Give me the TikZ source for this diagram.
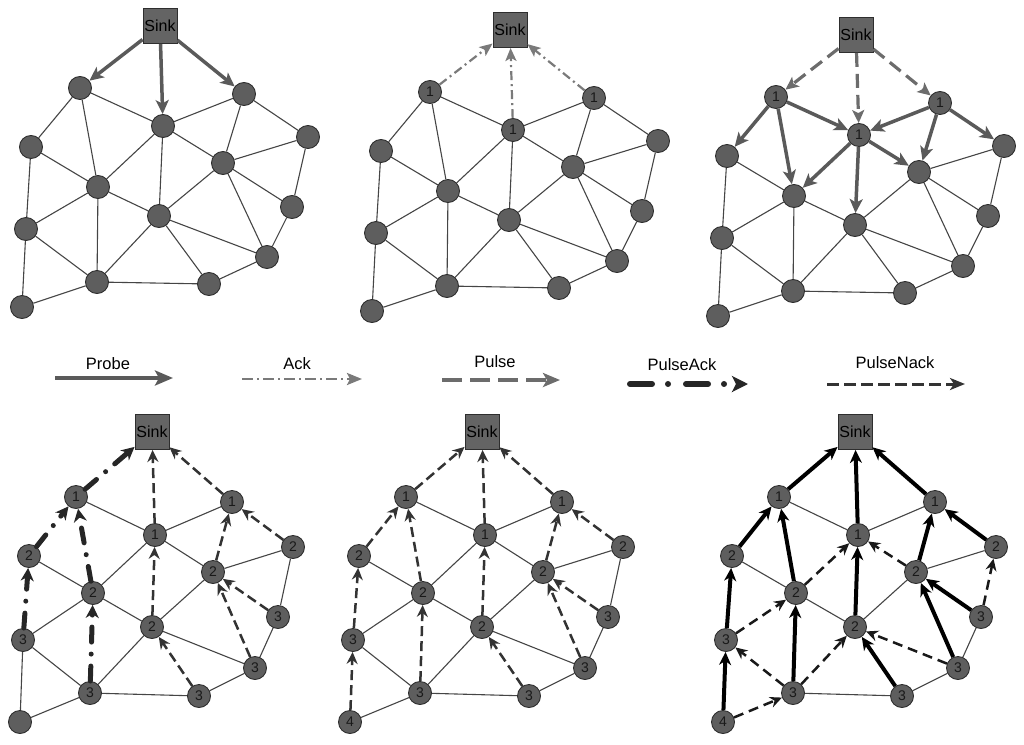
\documentclass[tikz,border=0pt]{standalone}
\usepackage{fontspec}
\setmainfont{Liberation Sans}
\usetikzlibrary{arrows.meta,backgrounds}
\definecolor{ndfill}{HTML}{5E5E5E}
\definecolor{ndline}{HTML}{2E2E2E}
\definecolor{sinkfill}{HTML}{646464}
\definecolor{edgec}{HTML}{454545}
\definecolor{probec}{HTML}{5A5A5A}
\definecolor{ackc}{HTML}{7A7A7A}
\definecolor{pulsec}{HTML}{6C6C6C}
\definecolor{packc}{HTML}{262626}
\definecolor{pnackc}{HTML}{333333}
\tikzset{
 nd/.style={circle, draw=ndline, fill=ndfill, line width=0.9pt, minimum size=23pt, inner sep=0pt, font=\fontsize{14}{14}\selectfont, text=black!90},
 sinkbox/.style={rectangle, draw=ndline, fill=sinkfill, line width=0.9pt, minimum width=34pt, minimum height=35pt, inner sep=0pt, font=\fontsize{16}{16}\selectfont},
 lnk/.style={draw=edgec, line width=1.1pt},
 probe/.style={draw=probec, line width=3.5pt, -{Stealth[length=14pt,width=13pt,inset=3.5pt]}},
 ack/.style={draw=ackc, line width=2.2pt, dash pattern=on 9pt off 4pt on 2pt off 4pt, -{Stealth[length=13pt,width=11pt,inset=3pt]}},
 pulse/.style={draw=pulsec, line width=3.2pt, dash pattern=on 14pt off 7pt, -{Stealth[length=13pt,width=12pt,inset=3pt]}},
 pack/.style={draw=packc, line width=5pt, line cap=round, dash pattern=on 15pt off 12pt on 0.01pt off 12pt, -{Stealth[length=13pt,width=13pt,inset=4pt]}},
 pnack/.style={draw=pnackc, line width=2.5pt, dash pattern=on 10pt off 5pt, -{Stealth[length=12pt,width=11pt,inset=4pt]}},
 route/.style={draw=black, line width=4pt, -{Stealth[length=13pt,width=12pt,inset=4pt]}},
 alt/.style={draw=black!90, line width=2.5pt, dash pattern=on 10pt off 6pt, -{Stealth[length=12pt,width=11pt,inset=4pt]}},
 lgd/.style={font=\fontsize{16.5}{16.5}\selectfont, inner sep=0pt},
}
\newcommand\topnet[2]{%
 \node[sinkbox] (#1S) at (160,26) {Sink};
 \node[nd] (#1A) at (80,88) {#2};
 \node[nd] (#1B) at (163,126) {#2};
 \node[nd] (#1C) at (244,94) {#2};
 \node[nd] (#1D) at (31,147) {};
 \node[nd] (#1E) at (308,137) {};
 \node[nd] (#1F) at (223,163) {};
 \node[nd] (#1G) at (98,187) {};
 \node[nd] (#1H) at (159,216) {};
 \node[nd] (#1I) at (292,207) {};
 \node[nd] (#1J) at (26,229) {};
 \node[nd] (#1K) at (267,257) {};
 \node[nd] (#1L) at (97,282) {};
 \node[nd] (#1M) at (209,284) {};
 \node[nd] (#1N) at (22,307) {};
}
\newcommand\botnet[2]{%
 \node[sinkbox] (#1S) at (152,432) {Sink};
 \node[nd] (#1A) at (76,497) {1};
 \node[nd] (#1B) at (155,535) {1};
 \node[nd] (#1C) at (232,502) {1};
 \node[nd] (#1D) at (29,556) {2};
 \node[nd] (#1E) at (293,547) {2};
 \node[nd] (#1F) at (213,572) {2};
 \node[nd] (#1G) at (93,593) {2};
 \node[nd] (#1H) at (152,627) {2};
 \node[nd] (#1I) at (278,617) {3};
 \node[nd] (#1J) at (23,640) {3};
 \node[nd] (#1K) at (255,668) {3};
 \node[nd] (#1L) at (90,693) {3};
 \node[nd] (#1M) at (199,696) {3};
 \node[nd] (#1N) at (20,722) {#2};
}
\newcommand\links[3]{\foreach \a/\b in {#3} {\draw[#2] (#1\a) -- (#1\b);}}
\newcommand\thinlinks[2]{\begin{pgfonlayer}{background}\links{#1}{lnk}{#2}\end{pgfonlayer}}
\begin{document}
\begin{tikzpicture}[x=1pt,y=-1pt]
\useasboundingbox (0,0) rectangle (1024,744);
% ---------- top row ----------
\begin{scope}
 \topnet{p1}{}
 \thinlinks{p1}{A/B,B/C,A/D,A/G,B/G,B/H,B/F,C/F,C/E,E/F,E/I,D/G,D/J,G/J,G/H,G/L,H/F,H/L,H/M,H/K,F/I,F/K,I/K,J/L,J/N,L/M,L/N,M/K}
 \links{p1}{probe}{S/A,S/B,S/C}
\end{scope}
\begin{scope}[shift={(350,4)}]
 \topnet{p2}{1}
 \thinlinks{p2}{A/B,B/C,A/D,A/G,B/G,B/H,B/F,C/F,C/E,E/F,E/I,D/G,D/J,G/J,G/H,G/L,H/F,H/L,H/M,H/K,F/I,F/K,I/K,J/L,J/N,L/M,L/N,M/K}
 \links{p2}{ack}{A/S,B/S,C/S}
\end{scope}
\begin{scope}[shift={(696,9)}]
 \topnet{p3}{1}
 \thinlinks{p3}{D/G,D/J,G/J,G/H,G/L,H/F,H/L,H/M,H/K,F/I,F/K,E/F,E/I,I/K,J/L,J/N,L/M,L/N,M/K}
 \links{p3}{pulse}{S/A,S/B,S/C}
 \links{p3}{probe}{A/D,A/G,A/B,B/G,B/H,B/F,C/B,C/F,C/E}
\end{scope}
% ---------- legend ----------
\node[lgd] (tProbe) at (108,364) {Probe};
\node[lgd] (tAck) at (297,364) {Ack};
\node[lgd] (tPulse) at (495,362) {Pulse};
\node[lgd] (tPulseAck) at (682,365) {PulseAck};
\node[lgd] (tPulseNack) at (895,363) {PulseNack};
\coordinate (lp1) at (55,378); \coordinate (lp2) at (173,378);
\coordinate (la1) at (242,379); \coordinate (la2) at (362,379);
\coordinate (lu1) at (442,380); \coordinate (lu2) at (560,380);
\coordinate (lk1) at (630,384); \coordinate (lk2) at (748,384);
\coordinate (ln1) at (827,384); \coordinate (ln2) at (965,384);
\draw[probe, line width=4.5pt, -{Stealth[length=18pt,width=15pt,inset=4pt]}] (lp1) -- (lp2);
\draw[ack, line width=2.5pt, dash pattern=on 11pt off 4pt on 2pt off 4pt, -{Stealth[length=15pt,width=12pt,inset=3pt]}] (la1) -- (la2);
\draw[pulse, line width=4.5pt, dash pattern=on 20pt off 8pt, -{Stealth[length=17pt,width=14pt,inset=4pt]}] (lu1) -- (lu2);
\draw[pack, line width=6pt, dash pattern=on 22pt off 16pt on 0.01pt off 18pt, -{Stealth[length=16pt,width=16pt,inset=4pt]}] (lk1) -- (lk2);
\draw[pnack, line width=3pt, dash pattern=on 12pt off 5pt, -{Stealth[length=15pt,width=12pt,inset=4pt]}] (ln1) -- (ln2);
% ---------- bottom row ----------
\begin{scope}
 \botnet{q1}{}
 \thinlinks{q1}{A/B,B/C,B/G,B/F,E/F,E/I,D/G,G/J,G/H,H/F,H/L,H/K,I/K,J/L,J/N,L/M,L/N,M/K}
 \links{q1}{pack}{A/S,D/A,G/A,J/D,L/G}
 \links{q1}{pnack}{B/S,C/S,H/B,F/C,E/C,I/F,K/F,M/H}
\end{scope}
\begin{scope}[shift={(330,0)}]
 \botnet{q2}{4}
 \thinlinks{q2}{A/B,B/C,B/G,B/F,E/F,E/I,D/G,G/J,G/H,H/F,H/L,H/K,I/K,J/L,L/M,L/N,M/K}
 \links{q2}{pnack}{A/S,B/S,C/S,D/A,G/A,H/B,F/C,E/C,J/D,N/J,L/G,I/F,K/F,M/H}
\end{scope}
\begin{scope}[shift={(703,0)}]
 \botnet{q3}{4}
 \thinlinks{q3}{A/B,B/C,D/G,G/H,H/F,E/F,I/K,L/M,M/K}
 \links{q3}{route}{A/S,B/S,C/S,D/A,G/A,H/B,F/C,E/C,J/D,N/J,L/G,I/F,K/F,M/H}
 \links{q3}{alt}{G/B,J/G,L/J,L/H,N/L,F/B,K/H,I/E}
\end{scope}
\end{tikzpicture}
\end{document}
